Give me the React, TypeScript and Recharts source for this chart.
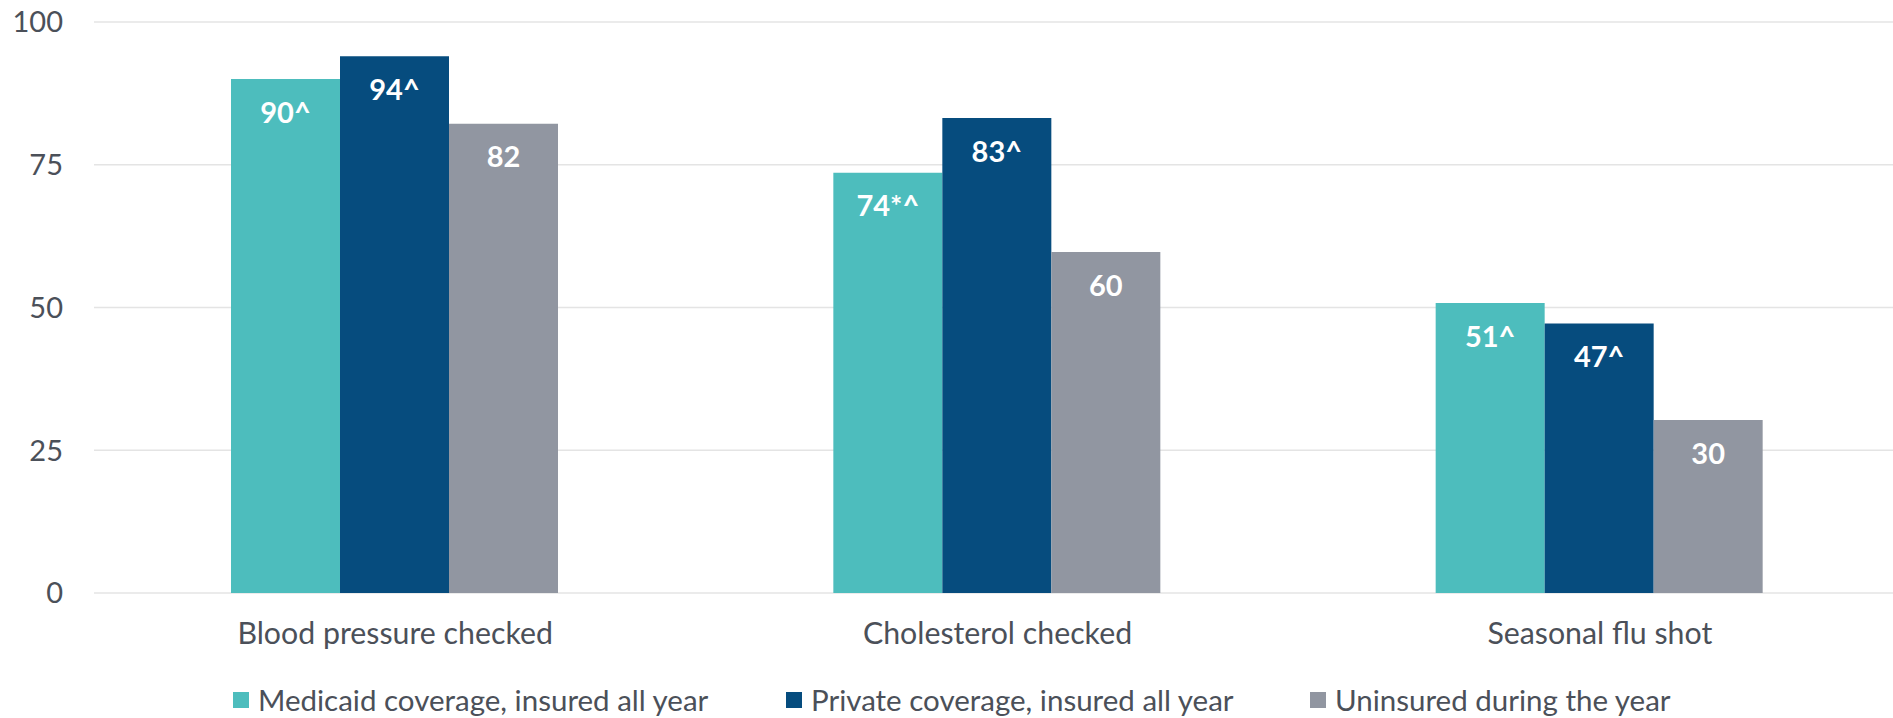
import React from "react";
import { BarChart, Bar, XAxis, YAxis, CartesianGrid, Legend, LabelList } from "recharts";

const categories = ["Blood pressure checked", "Cholesterol checked", "Seasonal flu shot"];
const medicaid = [90, 73.6, 50.8];
const privateCov = [94, 83.2, 47.2];
const uninsured = [82.2, 59.7, 30.3];
const medicaidLabels = ["90^", "74*^", "51^"];
const privateLabels = ["94^", "83^", "47^"];
const uninsuredLabels = ["82", "60", "30"];
const yTicks = [0, 25, 50, 75, 100];

const seriesNames = {
  medicaid: "Medicaid coverage, insured all year",
  privateCov: "Private coverage, insured all year",
  uninsured: "Uninsured during the year",
};

const data = categories.map((name, i) => ({
  name,
  medicaid: medicaid[i],
  privateCov: privateCov[i],
  uninsured: uninsured[i],
  medicaidLabel: medicaidLabels[i],
  privateLabel: privateLabels[i],
  uninsuredLabel: uninsuredLabels[i],
}));

const FONT = "Lato, 'Open Sans', sans-serif";
const TEXT = "#4b5059";
const labelStyle = { fill: "#fff", fontSize: 29, fontWeight: 700, fontFamily: FONT };
// legend item slots (px) so the squares line up with the original
const legendSlots = [553, 524, 420];

function LegendContent(props: any) {
  const items = props.payload || [];
  return (
    <div style={{ display: "flex", alignItems: "center" }}>
      {items.map((it: any, i: number) => (
        <div key={it.value} style={{ display: "flex", alignItems: "center", width: legendSlots[i] }}>
          <span style={{ width: 16, height: 16, background: it.color, display: "inline-block", marginRight: 9 }} />
          <span style={{ fontFamily: FONT, fontSize: 29.5, color: TEXT, lineHeight: "32px", whiteSpace: "nowrap" }}>{it.value}</span>
        </div>
      ))}
    </div>
  );
}

export default function App() {
  return (
    <div style={{ position: "absolute", left: 0, top: 0, width: 1893, height: 718, overflow: "hidden", background: "#fff" }}>
      <BarChart
        width={1901}
        height={718}
        data={data}
        margin={{ top: 22, right: 0, bottom: 63, left: 0 }}
        barGap={0}
        barCategoryGap={137}
      >
        <CartesianGrid vertical={false} stroke="#e4e4e4" strokeWidth={1.5} />
        <XAxis
          dataKey="name"
          axisLine={false}
          tickLine={false}
          tickSize={0}
          tickMargin={29}
          tick={{ fill: TEXT, fontSize: 30.3, fontFamily: FONT }}
        />
        <YAxis
          width={94}
          domain={[0, 100]}
          ticks={yTicks}
          axisLine={false}
          tickLine={false}
          tickSize={0}
          tickMargin={31}
          tick={{ fill: TEXT, fontSize: 29, fontFamily: FONT }}
        />
        <Legend
          content={<LegendContent />}
          wrapperStyle={{ left: 233, top: 684, width: "auto" }}
        />
        <Bar dataKey="medicaid" name={seriesNames.medicaid} fill="#4dbdbd" isAnimationActive={false}>
          <LabelList dataKey="medicaidLabel" position="insideTop" offset={23} style={labelStyle} />
        </Bar>
        <Bar dataKey="privateCov" name={seriesNames.privateCov} fill="#064c7e" isAnimationActive={false}>
          <LabelList dataKey="privateLabel" position="insideTop" offset={23} style={labelStyle} />
        </Bar>
        <Bar dataKey="uninsured" name={seriesNames.uninsured} fill="#9196a1" isAnimationActive={false}>
          <LabelList dataKey="uninsuredLabel" position="insideTop" offset={23} style={labelStyle} />
        </Bar>
      </BarChart>
    </div>
  );
}
